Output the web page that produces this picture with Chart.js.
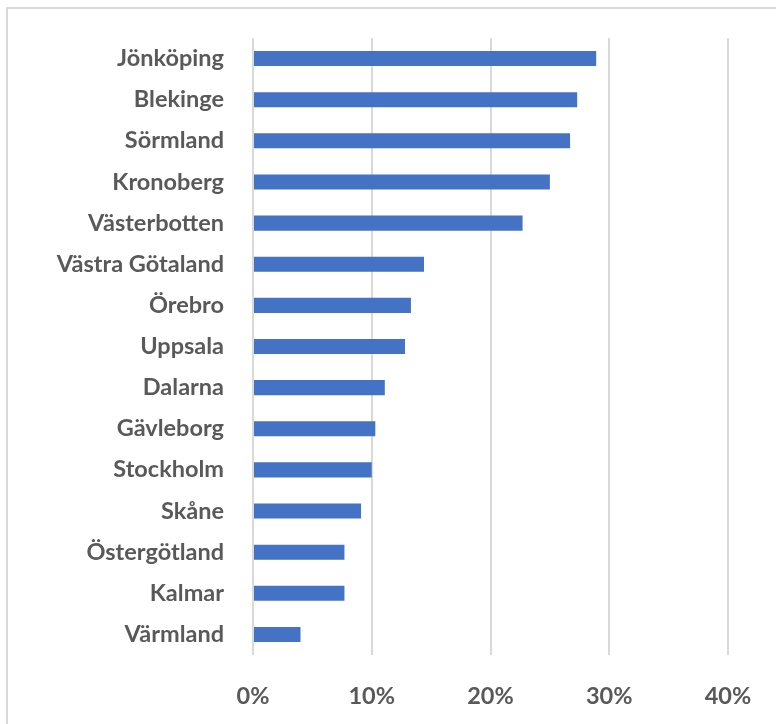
<!DOCTYPE html>
<html>
<head>
<meta charset="utf-8">
<script src="https://cdn.jsdelivr.net/npm/chart.js@4/dist/chart.umd.min.js"></script>
<style>
    html, body { margin: 0; padding: 0; background: #fff; }
    #wrap { position: relative; width: 776px; height: 724px; }
    #frame {
        position: absolute; left: 6px; top: 7px; right: -10px; bottom: -10px;
        border-top: 2px solid #d9d9d9; border-left: 2px solid #d9d9d9;
    }
    canvas { position: absolute; left: 0; top: 0; }
</style>
</head>
<body>
<div id="wrap">
    <div id="frame"></div>
    <canvas id="lanChart" width="776" height="724"></canvas>
</div>
<script>
const lan = [
    "Jönköping", "Blekinge", "Sörmland", "Kronoberg", "Västerbotten",
    "Västra Götaland", "Örebro", "Uppsala", "Dalarna", "Gävleborg",
    "Stockholm", "Skåne", "Östergötland", "Kalmar", "Värmland"
];
const andel = [28.9, 27.3, 26.7, 25.0, 22.7, 14.4, 13.3, 12.8, 11.1, 10.3, 10.0, 9.1, 7.7, 7.7, 4.0];
const xTicks = [0, 10, 20, 30, 40];

const labelFont = { family: "Lato, 'Open Sans', sans-serif", size: 23.5, weight: "bold" };

// drop the label overflow padding so the plot area follows layout.padding
function noOverflow(s) {
    s.paddingTop = s.paddingBottom = s.paddingLeft = s.paddingRight = 0;
}

new Chart(document.getElementById("lanChart"), {
    type: "bar",
    data: {
        labels: lan,
        datasets: [{
            data: andel,
            backgroundColor: "#4472C4",
            borderWidth: 0,
            barPercentage: 0.366,
            categoryPercentage: 1
        }]
    },
    options: {
        indexAxis: "y",
        responsive: false,
        animation: false,
        layout: { padding: { top: 38, right: 48, left: 0, bottom: 0 } },
        plugins: { legend: { display: false }, tooltip: { enabled: false } },
        scales: {
            x: {
                min: 0,
                max: 40,
                afterBuildTicks: s => { s.ticks = xTicks.map(v => ({ value: v })); },
                afterFit: s => { s.height = 69; noOverflow(s); },
                grid: { color: "#d9d9d9", lineWidth: 2, drawTicks: false },
                border: { display: false },
                ticks: {
                    padding: 27,
                    color: "#595959",
                    font: labelFont,
                    callback: v => v + "%"
                }
            },
            y: {
                afterFit: s => { s.width = 253; noOverflow(s); },
                grid: { display: false, drawTicks: false },
                border: { display: false },
                ticks: {
                    padding: 29,
                    color: "#595959",
                    font: labelFont,
                    autoSkip: false
                }
            }
        }
    }
});
</script>
</body>
</html>
